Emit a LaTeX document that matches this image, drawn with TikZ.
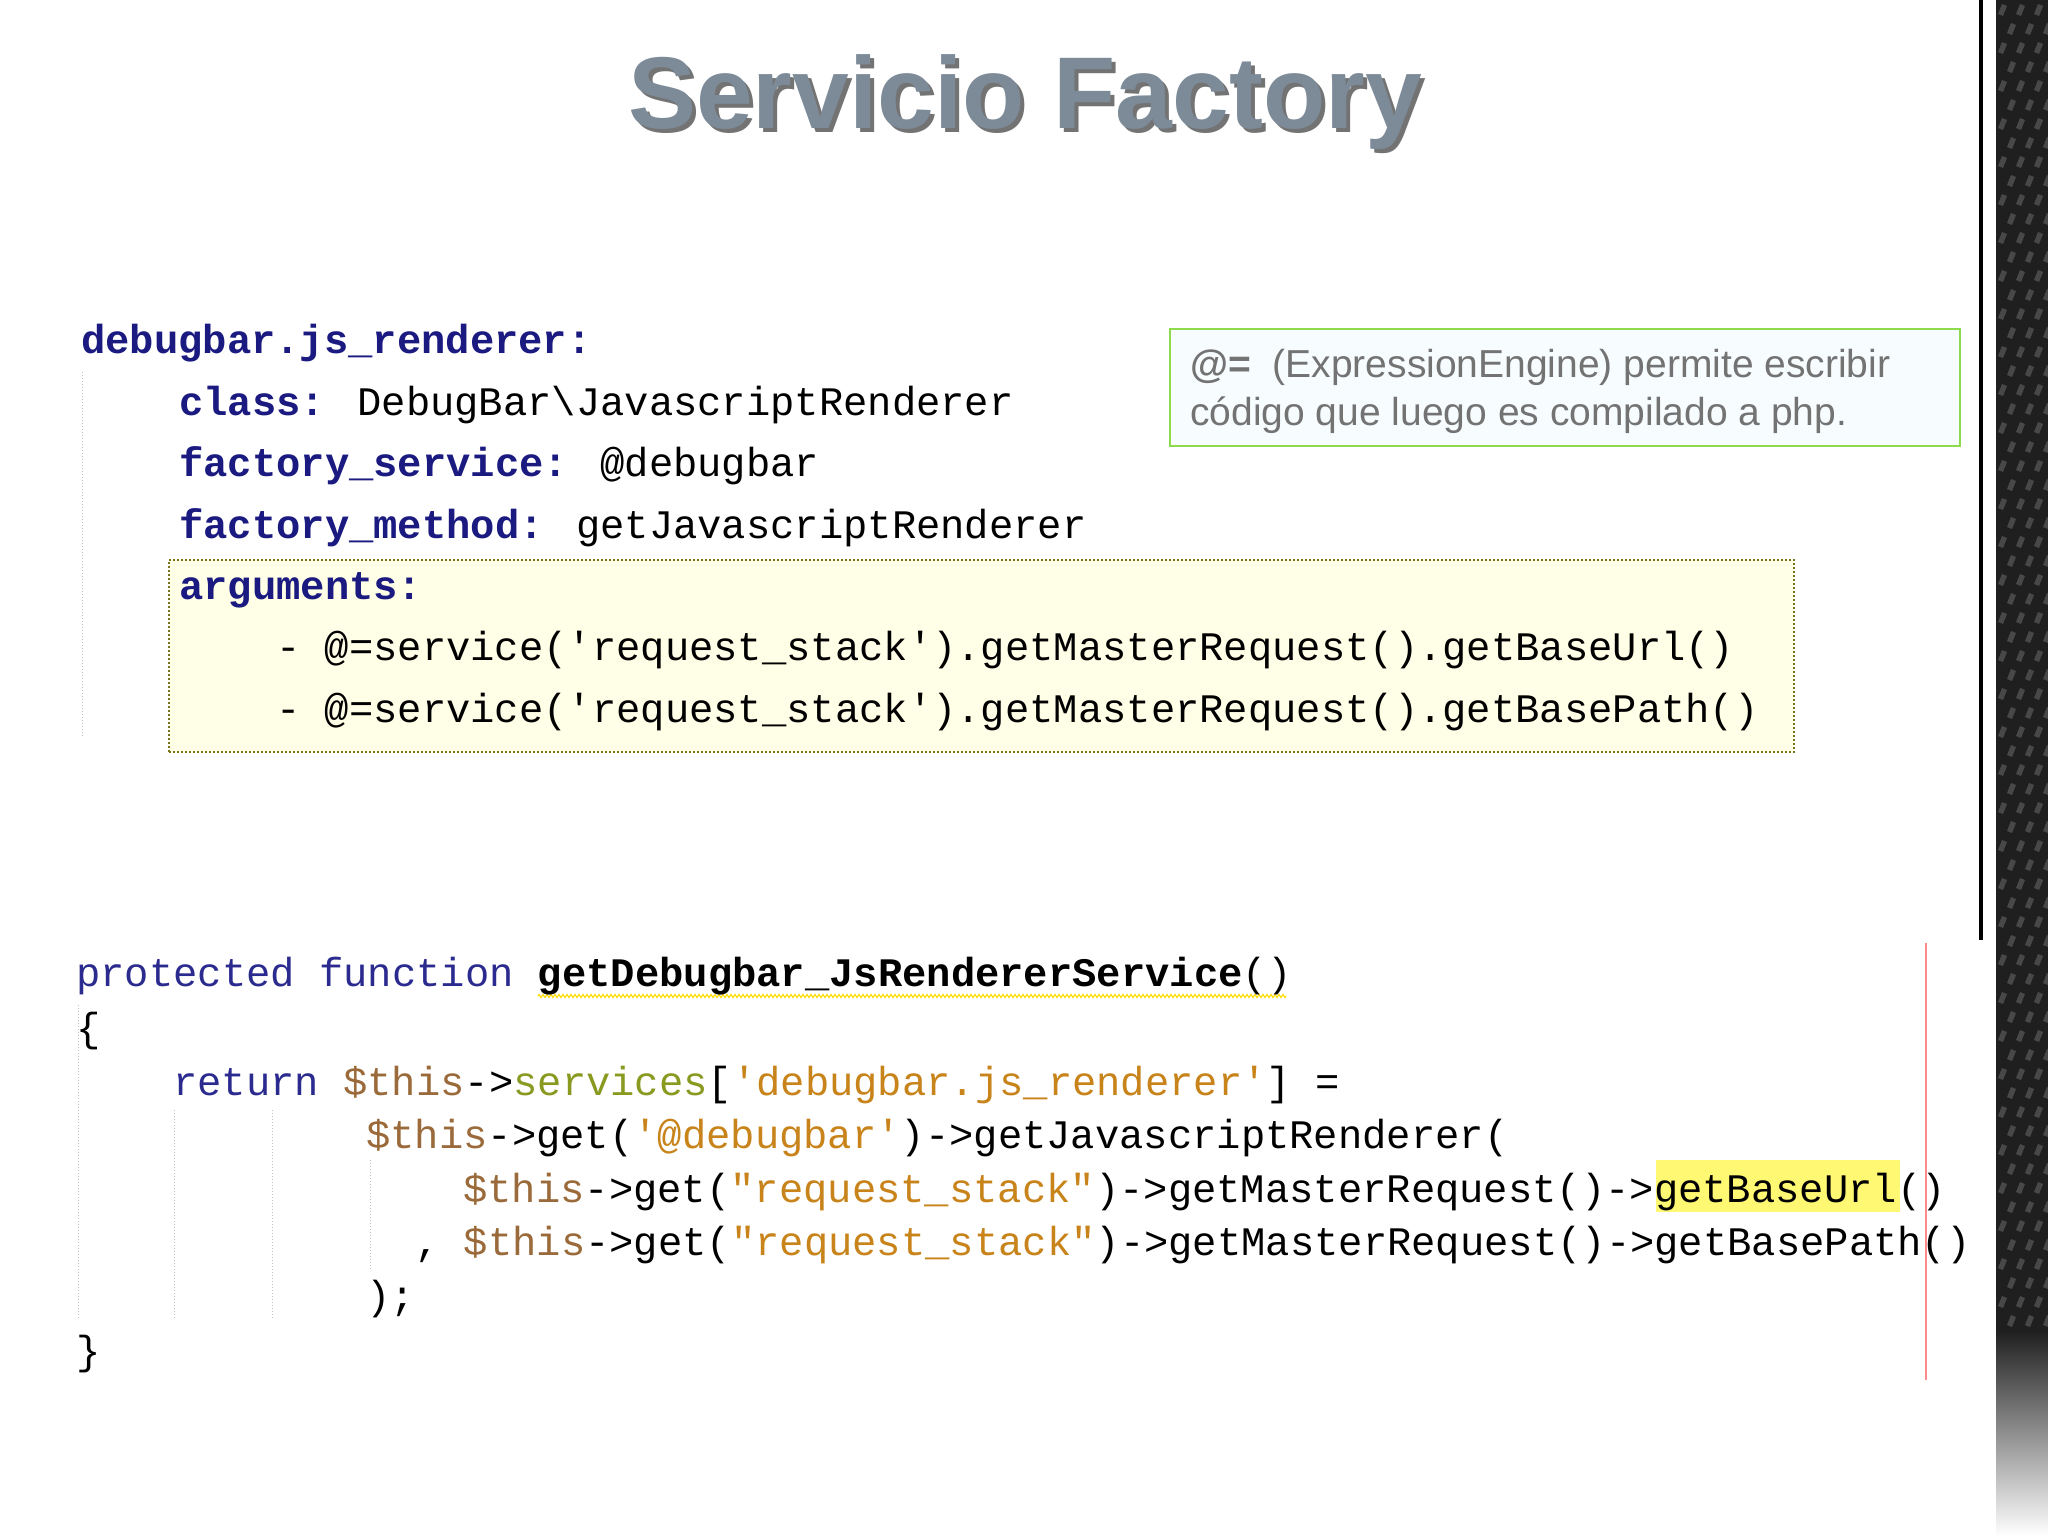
\documentclass[tikz,border=0pt]{standalone}
\usepackage{fontspec}
\setmainfont{Liberation Sans}
\newfontfamily\code{Liberation Mono}
\usetikzlibrary{decorations.pathmorphing}
\definecolor{kw}{HTML}{2A2A8F}
\definecolor{key}{HTML}{1A1A80}
\definecolor{var}{HTML}{9A6A3A}
\definecolor{str}{HTML}{C8841A}
\definecolor{fld}{HTML}{8A9A20}
\definecolor{ttl}{HTML}{7D8B99}
\newcommand{\sq}{\char"27}
\newcommand{\dq}{\char"22}
\tikzset{
  cl/.style={anchor=base west,inner sep=0pt,font=\code\fontsize{40.5}{40}\selectfont},
  nt/.style={anchor=base west,inner sep=0pt,text=black!55,font=\fontsize{39}{46}\selectfont},
  guide/.style={draw=gray!50,dotted,line width=1pt},
}
\begin{document}
\begin{tikzpicture}[x=1pt,y=-1pt]
\useasboundingbox (0,0) rectangle (2048,1536);
\fill[white] (0,0) rectangle (2048,1536);
% right decoration
\fill[black] (1979,0) rectangle (1983,940);
\fill[black!88] (1996,0) rectangle (2048,1330);
\foreach \j in {0,...,70}{
  \foreach \i in {0,1,2}{
    \pgfmathsetmacro{\cx}{2004+\i*18+mod(\j,2)*9}
    \pgfmathsetmacro{\cy}{10+\j*19}
    \fill[gray!45,opacity=0.25] (\cx,\cy) ++(-6,4) -- ++(4,-10) -- ++(5,2) -- ++(-4,10) -- cycle;
  }}
\shade[top color=black!88,bottom color=white] (1996,1330) rectangle (2048,1536);
% title
\node[font=\bfseries\fontsize{102}{102}\selectfont,text=black!55] at (1029,106) {Servicio Factory};
\node[font=\bfseries\fontsize{102}{102}\selectfont,text=ttl] (title) at (1025,102) {Servicio Factory};
% note
\node[draw=green!55!yellow!80!black!70,line width=1.5pt,fill=cyan!3,minimum width=790,minimum height=117,anchor=north west,inner sep=0pt] (note) at (1169,328) {};
\node[nt] (nt1) at (1190,377) {\textbf{@=}\ \ (ExpressionEngine) permite escribir};
\node[nt] (nt2) at (1190,425) {código que luego es compilado a php.};
% code 1
\draw[guide] (82,372) -- (82,738);
\node[draw=olive!80!black,dotted,line width=2pt,fill=yellow!10,anchor=north west,minimum width=1625,minimum height=192,inner sep=0pt] (args) at (168,559) {};
\node[cl,text=key] (c1a) at (81,353) {\textbf{debugbar.js\_renderer:}};
\node[cl] (c1b) at (179,415) {\textcolor{key}{\textbf{class:}} DebugBar\textbackslash JavascriptRenderer};
\node[cl] (c1c) at (179,476) {\textcolor{key}{\textbf{factory\_service:}} @debugbar};
\node[cl] (c1d) at (179,538) {\textcolor{key}{\textbf{factory\_method:}} getJavascriptRenderer};
\node[cl,text=key] (c1e) at (179,599) {\textbf{arguments:}};
\node[cl] (c1f) at (276,660) {- @=service(\sq request\_stack\sq).getMasterRequest().getBaseUrl()};
\node[cl] (c1g) at (276,722) {- @=service(\sq request\_stack\sq).getMasterRequest().getBasePath()};
% code 2
\draw[guide] (78,1005) -- (78,1320);
\draw[guide] (174,1110) -- (174,1320);
\draw[guide] (272,1110) -- (272,1320);
\draw[guide] (370,1160) -- (370,1270);
\fill[yellow!55!white] (1656,1160) rectangle (1900,1212);
\draw[red!45,line width=1.5pt] (1926,943) -- (1926,1380);
\draw[yellow!80!orange,line width=1.2pt,decorate,decoration={zigzag,amplitude=1.5pt,segment length=4pt}] (538,996) -- (1286,996);
\node[cl] (d1) at (76,986) {\textcolor{kw}{protected function} \textbf{getDebugbar\_JsRendererService}()};
\node[cl] (d2) at (76,1041) {\{};
\node[cl] (d3) at (173,1095) {\textcolor{kw}{return} \textcolor{var}{\$this}->\textcolor{fld}{services}[\textcolor{str}{\sq debugbar.js\_renderer\sq}] =};
\node[cl] (d4) at (366,1148) {\textcolor{var}{\$this}->get(\textcolor{str}{\sq @debugbar\sq})->getJavascriptRenderer(};
\node[cl] (d5) at (463,1202) {\textcolor{var}{\$this}->get(\textcolor{str}{\dq request\_stack\dq})->getMasterRequest()->getBaseUrl()};
\node[cl] (d6) at (415,1255) {, \textcolor{var}{\$this}->get(\textcolor{str}{\dq request\_stack\dq})->getMasterRequest()->getBasePath()};
\node[cl] (d7) at (366,1309) {);};
\node[cl] (d8) at (76,1364) {\}};
\end{tikzpicture}
\end{document}
